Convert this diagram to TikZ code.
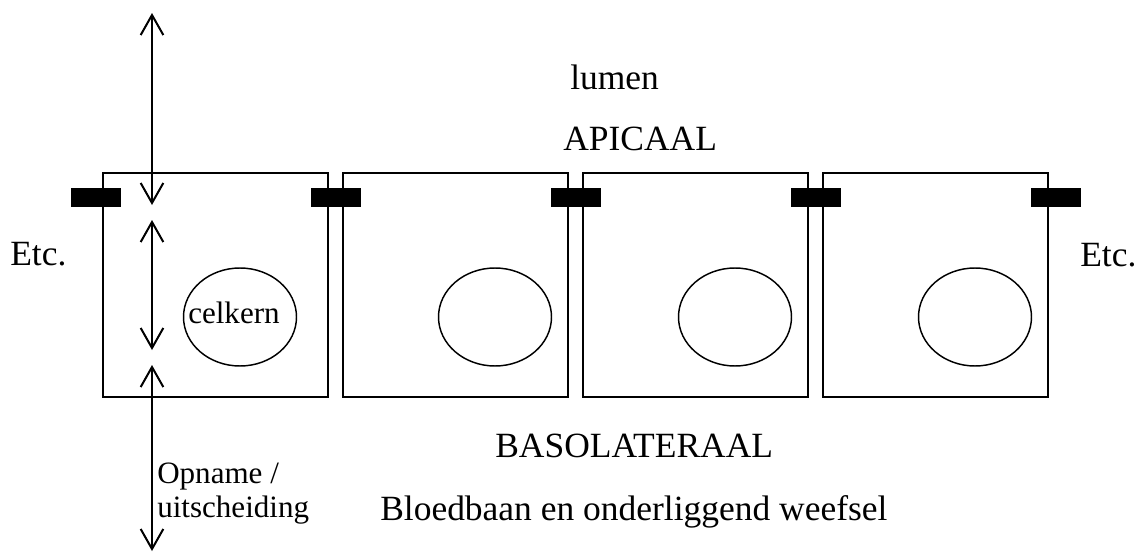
\documentclass[tikz,border=0pt]{standalone}
\usepackage{fontspec}
\setmainfont{Liberation Serif}
\usetikzlibrary{arrows.meta,shapes.geometric}
\begin{document}
\begin{tikzpicture}[x=0.75pt,y=-0.75pt,
  cell/.style={draw,line width=1.5pt,minimum width=168.75pt,minimum height=168pt,inner sep=0pt,outer sep=0pt},
  kern/.style={draw,ellipse,line width=1.1pt,minimum width=84.75pt,minimum height=73.5pt,inner sep=0pt},
  junction/.style={fill=black,minimum width=37.5pt,minimum height=14.25pt,inner sep=0pt},
  big/.style={inner sep=0pt,anchor=base west,font=\fontsize{26.6}{30}\selectfont},
  small/.style={inner sep=0pt,anchor=base west,font=\fontsize{23.3}{27}\selectfont},
  flow/.style={line width=1.5pt,{Straight Barb[length=15pt,width=17pt,line width=1.5pt]}-{Straight Barb[length=15pt,width=17pt,line width=1.5pt]}}]
\useasboundingbox (0,0) rectangle (1143,553);

% epithelial cells
\node[cell] (c1) at (215.5,285) {};
\node[cell] (c2) at (455.5,285) {};
\node[cell] (c3) at (695.5,285) {};
\node[cell] (c4) at (935.5,285) {};

% nuclei
\node[kern] (k1) at (240,317) {};
\node[kern] (k2) at (495,317) {};
\node[kern] (k3) at (735,317) {};
\node[kern] (k4) at (975,317) {};
\node[small] (kl) at (188,323) {celkern};

% tight junctions
\node[junction] (j1) at (96,197.5) {};
\node[junction] (j2) at (335.5,197.5) {};
\node[junction] (j3) at (575.5,197.5) {};
\node[junction] (j4) at (815.5,197.5) {};
\node[junction] (j5) at (1055.5,197.5) {};

% transport arrows
\coordinate (a1) at (152,13);
\coordinate (a2) at (152,205);
\coordinate (b1) at (152,220);
\coordinate (b2) at (152,350);
\coordinate (d1) at (152,365);
\coordinate (d2) at (152,551);
\draw[flow] (a2) -- (a1);
\draw[flow] (b1) -- (b2);
\draw[flow] (d1) -- (d2);

% labels
\node[big] (lumen) at (570,89) {lumen};
\node[big] (apic) at (563,150) {APICAAL};
\node[big] (etcl) at (10,265) {Etc.};
\node[big] (etcr) at (1080,266) {Etc.};
\node[big] (baso) at (495,457) {BASOLATERAAL};
\node[big] (blood) at (380,520) {Bloedbaan en onderliggend weefsel};
\node[small] (op1) at (157,483) {Opname /};
\node[small] (op2) at (157,517) {uitscheiding};
\end{tikzpicture}
\end{document}
